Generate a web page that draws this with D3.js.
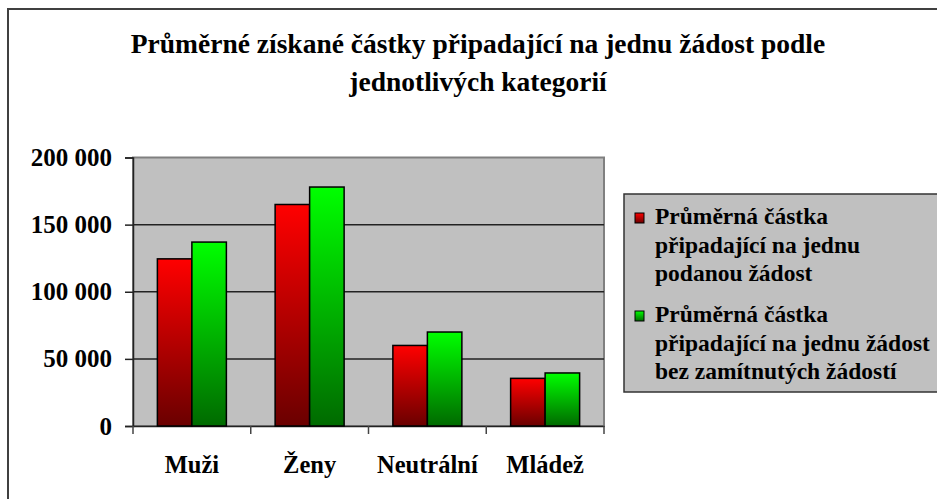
<!DOCTYPE html>
<html>
<head>
<meta charset="utf-8">
<script src="https://cdn.jsdelivr.net/npm/d3@7/dist/d3.min.js"></script>
<style>
  body { margin: 0; background: #fff; }
  text { font-family: "Liberation Serif", "Times New Roman", serif; font-weight: bold; fill: #000; }
</style>
</head>
<body>
<svg id="chart" width="937" height="499"></svg>
<script>

// chart data
var categories = ["Muži", "Ženy", "Neutrální", "Mládež"];
var podanou = [124500, 165000, 60000, 35500];
var bezZamitnutych = [137000, 178000, 70000, 39500];
var yTicks = [0, 50000, 100000, 150000, 200000];
var seriesNames = [
  ["Průměrná částka", "připadající na jednu", "podanou žádost"],
  ["Průměrná částka", "připadající na jednu žádost", "bez zamítnutých žádostí"]
];
var titleLines = ["Průměrné získané částky připadající na jednu žádost podle", "jednotlivých kategorií"];

var svg = d3.select("#chart");
var serif = "Liberation Serif, Times New Roman, serif";

var plot = {left: 133, right: 604, top: 157.5, bottom: 426};

// gradients for bars (light top -> dark bottom)
var defs = svg.append("defs");
var gradColors = [["#ff0000", "#6a0000"], ["#00ff00", "#006a00"]];
gradColors.forEach(function(c, i) {
  var g = defs.append("linearGradient")
      .attr("id", "grad" + i)
      .attr("x1", 0).attr("y1", 0).attr("x2", 0).attr("y2", 1);
  g.append("stop").attr("offset", "0%").attr("stop-color", c[0]);
  g.append("stop").attr("offset", "100%").attr("stop-color", c[1]);
});

// outer frame
svg.append("rect")
    .attr("x", 8).attr("y", 9)
    .attr("width", 940).attr("height", 500)
    .attr("fill", "#fff")
    .attr("stroke", "#404040")
    .attr("stroke-width", 2);

// title
svg.selectAll(".title")
  .data(titleLines)
  .enter().append("text")
    .attr("class", "title")
    .attr("x", 478)
    .attr("y", function(d, i) { return 53 + i * 38; })
    .attr("text-anchor", "middle")
    .attr("font-family", serif)
    .style("font-size", "27.5px")
    .text(function(d) { return d; });

// scales
var x = d3.scaleBand()
    .domain(categories)
    .range([plot.left, plot.right])
    .paddingInner(0.414)
    .paddingOuter(0.207);

var xSub = d3.scaleBand()
    .domain([0, 1])
    .range([0, x.bandwidth()]);

var y = d3.scaleLinear()
    .domain([0, 200000])
    .range([plot.bottom, plot.top]);

// plot background
svg.append("rect")
    .attr("x", plot.left).attr("y", plot.top)
    .attr("width", plot.right - plot.left)
    .attr("height", plot.bottom - plot.top)
    .attr("fill", "#c0c0c0")
    .attr("stroke", "#808080")
    .attr("stroke-width", 2);

// gridlines
svg.selectAll(".grid")
  .data(yTicks.slice(1, -1))
  .enter().append("line")
    .attr("x1", plot.left).attr("x2", plot.right)
    .attr("y1", function(d) { return y(d); })
    .attr("y2", function(d) { return y(d); })
    .attr("stroke", "#222")
    .attr("stroke-width", 1.5);

// y axis
var yAxis = svg.append("g")
    .attr("transform", "translate(" + plot.left + ",0)")
    .call(d3.axisLeft(y).tickValues(yTicks).tickSize(8).tickPadding(13)
      .tickFormat(function(d) { return d3.format(",")(d).replace(/,/g, " "); }));
yAxis.select(".domain").attr("stroke", "#222").attr("stroke-width", 1.5);
yAxis.selectAll(".tick line").attr("stroke", "#222").attr("stroke-width", 1.5);
yAxis.selectAll("text")
    .style("font-size", "25px")
    .style("font-family", serif)
    .style("font-weight", "bold")
    .attr("fill", "#000");

// x axis
var xAxis = svg.append("g")
    .attr("transform", "translate(0," + plot.bottom + ")")
    .call(d3.axisBottom(x).tickSize(0).tickPadding(30));
xAxis.select(".domain").attr("stroke", "#222").attr("stroke-width", 1.5);
xAxis.selectAll("text")
    .style("font-size", "24.5px")
    .style("font-family", serif)
    .style("font-weight", "bold")
    .attr("fill", "#000");

// category boundary ticks
var bounds = categories.map(function(c) { return x(c) - x.step() * x.paddingOuter(); });
bounds.push(plot.right);
svg.selectAll(".xtick")
  .data(bounds)
  .enter().append("line")
    .attr("x1", function(d) { return d; }).attr("x2", function(d) { return d; })
    .attr("y1", plot.bottom).attr("y2", plot.bottom + 8)
    .attr("stroke", "#444")
    .attr("stroke-width", 1.5);

// bars
var seriesData = [podanou, bezZamitnutych];
seriesData.forEach(function(values, s) {
  svg.selectAll(".bar" + s)
    .data(values)
    .enter().append("rect")
      .attr("class", "bar" + s)
      .attr("x", function(d, i) { return x(categories[i]) + xSub(s); })
      .attr("y", function(d) { return y(d); })
      .attr("width", xSub.bandwidth())
      .attr("height", function(d) { return plot.bottom - y(d); })
      .attr("fill", "url(#grad" + s + ")")
      .attr("stroke", "#000")
      .attr("stroke-width", 1.5);
});

// legend
var legend = svg.append("g");
legend.append("rect")
    .attr("x", 624).attr("y", 194)
    .attr("width", 330).attr("height", 198)
    .attr("fill", "#c0c0c0")
    .attr("stroke", "#333")
    .attr("stroke-width", 1.5);

var groupTop = [224, 322];
seriesNames.forEach(function(lines, s) {
  legend.append("rect")
      .attr("x", 635).attr("y", groupTop[s] - 11)
      .attr("width", 9).attr("height", 10)
      .attr("fill", "url(#grad" + s + ")")
      .attr("stroke", "#000")
      .attr("stroke-width", 1);
  legend.selectAll(".leg" + s)
    .data(lines)
    .enter().append("text")
      .attr("x", 655)
      .attr("y", function(d, i) { return groupTop[s] + i * 28.5; })
      .attr("font-family", serif)
      .style("font-size", "23.5px")
      .text(function(d) { return d; });
});

</script>
</body>
</html>
